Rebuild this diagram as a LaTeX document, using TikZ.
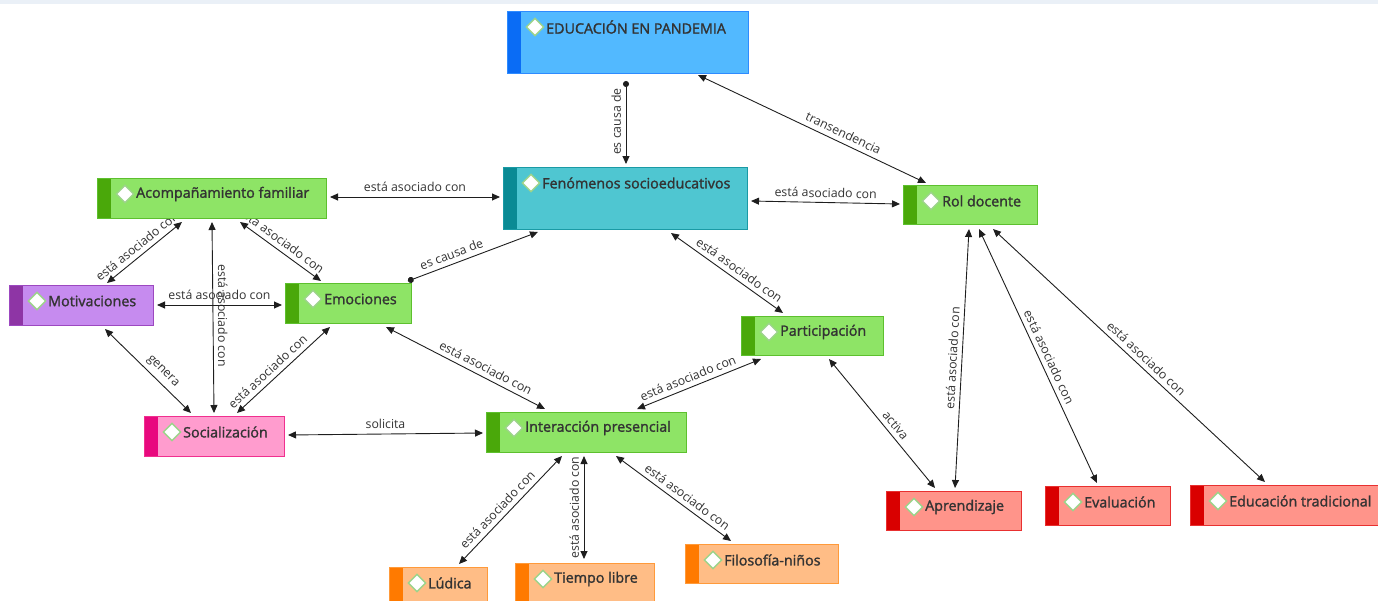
\documentclass[tikz,border=0pt]{standalone}
\usepackage{fontspec}
\setmainfont{Open Sans}
\newfontfamily\boxfont{Open Sans}[FakeBold=1.6]
\usetikzlibrary{shapes.geometric,arrows.meta,calc}
\pgfdeclarelayer{bg}\pgfsetlayers{bg,main}
\definecolor{txt}{HTML}{333333}
\definecolor{ln}{HTML}{1E1E1E}
\definecolor{bluef}{HTML}{52B9FF}\definecolor{blues}{HTML}{0A6CF5}\definecolor{blueb}{HTML}{2E8BFF}
\definecolor{tealf}{HTML}{4FC6D1}\definecolor{teals}{HTML}{0A8A94}\definecolor{tealb}{HTML}{1A9AA5}
\definecolor{grnf}{HTML}{8EE466}\definecolor{grns}{HTML}{4AA80A}\definecolor{grnb}{HTML}{5DC02E}
\definecolor{purf}{HTML}{C68BEF}\definecolor{purs}{HTML}{8E35A5}\definecolor{purb}{HTML}{9C48C0}
\definecolor{pinf}{HTML}{FF9CCE}\definecolor{pins}{HTML}{E8097E}\definecolor{pinb}{HTML}{F0308F}
\definecolor{redf}{HTML}{FF948A}\definecolor{reds}{HTML}{D90000}\definecolor{redb}{HTML}{E83030}
\definecolor{orgf}{HTML}{FFBD86}\definecolor{orgs}{HTML}{FF7A00}\definecolor{orgb}{HTML}{FF9A3A}
\definecolor{diamb}{HTML}{9CD38A}
\definecolor{band}{HTML}{EAF0F7}
\tikzset{
  box/.style={rectangle, line width=1pt, inner sep=0pt, anchor=north west},
  diam/.style={diamond, fill=white, draw=diamb, line width=1.4pt, minimum width=18pt, minimum height=18pt, inner sep=0pt},
  boxtext/.style={anchor=west, inner sep=0pt, text=txt, font=\boxfont\fontsize{14.3}{16}\selectfont},
  conn/.style={draw=ln, line width=0.9pt, {Triangle[length=8pt,width=7pt]}-{Triangle[length=8pt,width=7pt]}},
  causa/.style={draw=ln, line width=0.9pt, {Circle[length=6pt]}-{Triangle[length=8pt,width=7pt]}},
  lab/.style={text=txt, inner sep=4.5pt, font=\fontsize{12.3}{14}\selectfont},
}
\newcommand\cmbox[9]{%
  \node[box, fill=#6, draw=#8, minimum width=#4pt, minimum height=#5pt,
    path picture={\fill[#7] (path picture bounding box.north west) rectangle ([xshift=13pt]path picture bounding box.south west);}] (#1) at (#2,#3) {};
  \node[diam] (#1-d) at ([xshift=28pt,yshift=-16pt]#1.north west) {};
  \node[boxtext] (#1-t) at ([xshift=39pt,yshift=-16pt]#1.north west) {#9};
}
\begin{document}
\begin{tikzpicture}[x=1pt,y=-1pt]
\useasboundingbox (0,0) rectangle (1378,600);
\fill[band] (0,0) rectangle (1378,4);
\cmbox{edu}{507}{11}{241}{62}{bluef}{blues}{blueb}{EDUCACIÓN EN PANDEMIA}
\cmbox{fen}{503}{167}{244}{62}{tealf}{teals}{tealb}{Fenómenos socioeducativos}
\cmbox{acomp}{97}{178}{229}{40}{grnf}{grns}{grnb}{Acompañamiento familiar}
\cmbox{rol}{903}{185}{134}{39}{grnf}{grns}{grnb}{Rol docente}
\cmbox{motiv}{9}{285}{144}{40}{purf}{purs}{purb}{Motivaciones}
\cmbox{emoc}{285}{283}{126}{40}{grnf}{grns}{grnb}{Emociones}
\cmbox{part}{741}{316}{142}{39}{grnf}{grns}{grnb}{Participación}
\cmbox{social}{144}{416}{140}{40}{pinf}{pins}{pinb}{Socialización}
\cmbox{inter}{486}{412}{200}{40}{grnf}{grns}{grnb}{Interacción presencial}
\cmbox{aprend}{886}{491}{135}{39}{redf}{reds}{redb}{Aprendizaje}
\cmbox{eval}{1045}{486}{125}{39}{redf}{reds}{redb}{Evaluación}
\cmbox{edtrad}{1190}{485}{194}{40}{redf}{reds}{redb}{Educación tradicional}
\cmbox{ludica}{389}{567}{98}{40}{orgf}{orgs}{orgb}{Lúdica}
\cmbox{tiempo}{515}{563}{139}{40}{orgf}{orgs}{orgb}{Tiempo libre}
\cmbox{filo}{685}{544}{153}{39}{orgf}{orgs}{orgb}{Filosofía-niños}
\begin{pgfonlayer}{bg}
\draw[causa] ($(edu.south west)+(119,7)$) -- node[lab, pos=.49, rotate=90, anchor=south] {es causa de} ($(fen.north west)+(123,-3)$);
\draw[conn] ($(edu.south west)+(191,1)$) -- node[lab, pos=.62, sloped, above] {transendencia} ($(rol.north west)+(23,-2)$);
\draw[conn] ($(acomp.north east)+(3,19)$) -- node[lab, pos=.5, above] {está asociado con} ($(fen.north west)+(-3,30)$);
\draw[conn] ($(fen.north east)+(3,34)$) -- node[lab, pos=.5, sloped, above] {está asociado con} ($(rol.north west)+(-3,19)$);
\draw[causa] ($(emoc.north east)+(-4,-2)$) -- node[lab, pos=.36, sloped, above] {es causa de} ($(fen.south west)+(35,2)$);
\draw[conn] ($(fen.south west)+(168,3)$) -- node[lab, pos=.56, sloped, above] {está asociado con} ($(part.north west)+(42,-3)$);
\draw[conn] ($(acomp.south west)+(85,3)$) -- node[lab, pos=.52, sloped, above] {está asociado con} ($(motiv.north west)+(98,-2)$);
\draw[conn] ($(acomp.south west)+(143,3)$) -- node[lab, pos=.44, sloped, above] {está asociado con} ($(emoc.north west)+(36,-2)$);
\draw[conn] ($(acomp.south west)+(115,3)$) -- node[lab, pos=.49, rotate=-90, anchor=south] {está asociado con} ($(social.north west)+(70,-3)$);
\draw[conn] ($(motiv.north east)+(3,20)$) -- node[lab, pos=.5, above] {está asociado con} ($(emoc.north west)+(-3,22)$);
\draw[conn] ($(motiv.south west)+(96,3)$) -- node[lab, pos=.59, sloped, above] {genera} ($(social.north west)+(47,-3)$);
\draw[conn] ($(emoc.south west)+(45,3)$) -- node[lab, pos=.6, sloped, above] {está asociado con} ($(social.north west)+(93,-3)$);
\draw[conn] ($(emoc.south west)+(101,3)$) -- node[lab, pos=.6, sloped, above] {está asociado con} ($(inter.north west)+(59,-3)$);
\draw[conn] ($(part.south west)+(20,3)$) -- node[lab, pos=.56, sloped, above] {está asociado con} ($(inter.north west)+(151,-3)$);
\draw[conn] ($(social.north east)+(3,19)$) -- node[lab, pos=.5, above] {solicita} ($(inter.north west)+(-3,21)$);
\draw[conn] ($(part.south west)+(88,3)$) -- node[lab, pos=.56, sloped, above] {activa} ($(aprend.north west)+(49,-3)$);
\draw[conn] ($(rol.south west)+(66,4)$) -- node[lab, pos=.5, sloped, above] {está asociado con} ($(aprend.north west)+(69,-3)$);
\draw[conn] ($(rol.south west)+(76,4)$) -- node[lab, pos=.52, sloped, above] {está asociado con} ($(eval.north west)+(52,-3)$);
\draw[conn] ($(rol.south west)+(90,4)$) -- node[lab, pos=.54, sloped, above] {está asociado con} ($(edtrad.north west)+(75,-3)$);
\draw[conn] ($(inter.south west)+(76,3)$) -- node[lab, pos=.56, sloped, above] {está asociado con} ($(ludica.north west)+(70,-3)$);
\draw[conn] ($(inter.south west)+(98,3)$) -- node[lab, pos=.5, rotate=90, anchor=south] {está asociado con} ($(tiempo.north west)+(69,-4)$);
\draw[conn] ($(inter.south west)+(130,3)$) -- node[lab, pos=.57, sloped, above] {está asociado con} ($(filo.north west)+(46,-3)$);
\end{pgfonlayer}
\end{tikzpicture}
\end{document}
